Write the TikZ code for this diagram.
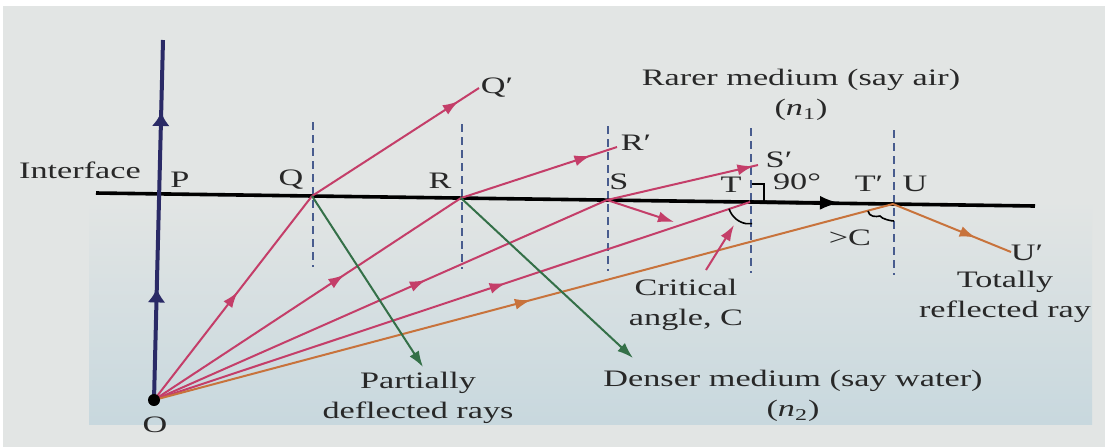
\documentclass[tikz,border=0pt]{standalone}
\usepackage{fontspec}
\setmainfont[FakeStretch=1.45]{Liberation Serif}
\usetikzlibrary{arrows.meta, decorations.markings}
\definecolor{raypink}{RGB}{196,62,105}
\definecolor{raygreen}{RGB}{52,112,72}
\definecolor{rayorange}{RGB}{200,115,60}
\definecolor{navy}{RGB}{42,42,102}
\definecolor{normalblue}{RGB}{72,92,142}
\definecolor{bggray}{RGB}{226,229,228}
\definecolor{water}{RGB}{200,216,222}
\definecolor{inkgray}{RGB}{40,40,40}

\begin{document}
\begin{tikzpicture}[x=0.5pt, y=-0.5pt, font=\fontsize{11.8}{15}\selectfont,
        ray/.style={raypink, line width=1pt},
        rayg/.style={raygreen, line width=1pt},
        rayo/.style={rayorange, line width=1pt},
        tip/.style={-{Latex[length=8pt,width=5.5pt]}},
        midtip/.style={postaction={decorate}, decoration={markings,
            mark=at position #1 with {\arrow{Latex[length=8pt,width=5.5pt]}}}},
        navytips/.style={postaction={decorate}, decoration={markings,
            mark=at position 0.31 with {\arrow{Latex[length=7pt,width=9pt]}},
            mark=at position 0.8 with {\arrow{Latex[length=7pt,width=9pt]}}}},
        normal/.style={normalblue, line width=0.9pt, dash pattern=on 4pt off 2.5pt},
        lbl/.style={text=inkgray, inner sep=0pt}]
                \useasboundingbox (0,0) rectangle (1105,447);
                \fill[white] (0,0) rectangle (1105,447);
                \fill[bggray] (3,6) rectangle (1105,447);
                \shade[top color=bggray, bottom color=water] (89,200) rectangle (1092,424);

                \coordinate (O) at (154,400);
                \coordinate (Top) at (163,40);
                \coordinate (IL) at (96,193);
                \coordinate (IR) at (1035,206);
                \coordinate (Q) at (312,196);
                \coordinate (R) at (461,198);
                \coordinate (S) at (607,200);
                \coordinate (T) at (750,202);
                \coordinate (U) at (893,204);
                \coordinate (Qr) at (479,88);
                \coordinate (Rr) at (617,147);
                \coordinate (Sr) at (758,165);
                \coordinate (Tr) at (840,203);
                \coordinate (Ur) at (1011,252);
                \coordinate (Qd) at (423,367);
                \coordinate (Rd) at (633,358);
                \coordinate (Sd) at (674,222);
                \coordinate (Cp) at (706,270);
                \coordinate (Ch) at (734,225);

                \foreach \p in {Q,R,S,T,U}{
                  \draw[normal] ([shift={(1,-74)}]\p) -- ([shift={(1,71)}]\p);
                }
                \draw[line width=1.8pt] (IL) -- (IR);
                \draw[line width=1.8pt, -{Latex[length=10pt,width=7pt]}] (T) -- (Tr);
                \draw[navy, line width=2pt, navytips] (O) -- (Top);

                \draw[ray, midtip=0.53] (O) -- (Q);
                \draw[ray, midtip=0.62] (O) -- (R);
                \draw[ray, midtip=0.6] (O) -- (S);
                \draw[ray, midtip=0.59] (O) -- (T);
                \draw[rayo, midtip=0.51] (O) -- (U);
                \draw[ray, midtip=0.88] (Q) -- (Qr);
                \draw[ray, midtip=0.83] (R) -- (Rr);
                \draw[ray, midtip=0.97] (S) -- (Sr);
                \draw[rayo, midtip=0.7] (U) -- (Ur);
                \draw[ray, tip] (S) -- (Sd);
                \draw[rayg, tip] (Q) -- (Qd);
                \draw[rayg, tip] (R) -- (Rd);
                \draw[ray, tip] (Cp) -- (Ch);
                \fill[black] (O) circle[radius=6];

                \draw[line width=0.9pt] ([shift={(2,-18)}]T) -| ([shift={(14,0)}]T);
                \draw[line width=0.8pt] ([shift={(162:22)}]T) arc[start angle=162, end angle=100, radius=22] -- ++(6,0);
                \draw[line width=0.8pt] ([shift={(-25,7)}]U) .. controls +(1,6) and +(-4,1) .. ([shift={(-13,12)}]U)
                      .. controls +(2,3) and +(-3,0) .. ([shift={(1,17)}]U);

                \node[lbl] (ifc) at (80,170) {Interface};
                \node[lbl] (pl) at (180,180) {P};
                \node[lbl] (ql) at (291,180) {Q};
                \node[lbl] (rl) at (440,181) {R};
                \node[lbl] (sl) at (619,182) {S};
                \node[lbl] (tl) at (731,185) {T};
                \node[lbl] (tpl) at (869,184) {T′};
                \node[lbl] (ul) at (915,184) {U};
                \node[lbl] (qpl) at (497,88) {Q′};
                \node[lbl] (rpl) at (636,143) {R′};
                \node[lbl] (spl) at (779,160) {S′};
                \node[lbl] (upl) at (1027,253) {U′};
                \node[lbl] (rt) at (797,182) {90°};
                \node[lbl] (gtc) at (850,238) {>C};
                \node[lbl] (ol) at (155,425) {O};
                \node[lbl, align=center] (air) at (801,95) {Rarer medium (say air)\\(\textit{n}\textsubscript{1})};
                \node[lbl, align=center] (wat) at (793,396) {Denser medium (say water)\\(\textit{n}\textsubscript{2})};
                \node[lbl, align=center] (crit) at (686,305) {Critical\\angle, C};
                \node[lbl, align=center] (tot) at (1005,297) {Totally\\reflected ray};
                \node[lbl, align=center] (part) at (418,398) {Partially\\deflected rays};
            \end{tikzpicture}
\end{document}
